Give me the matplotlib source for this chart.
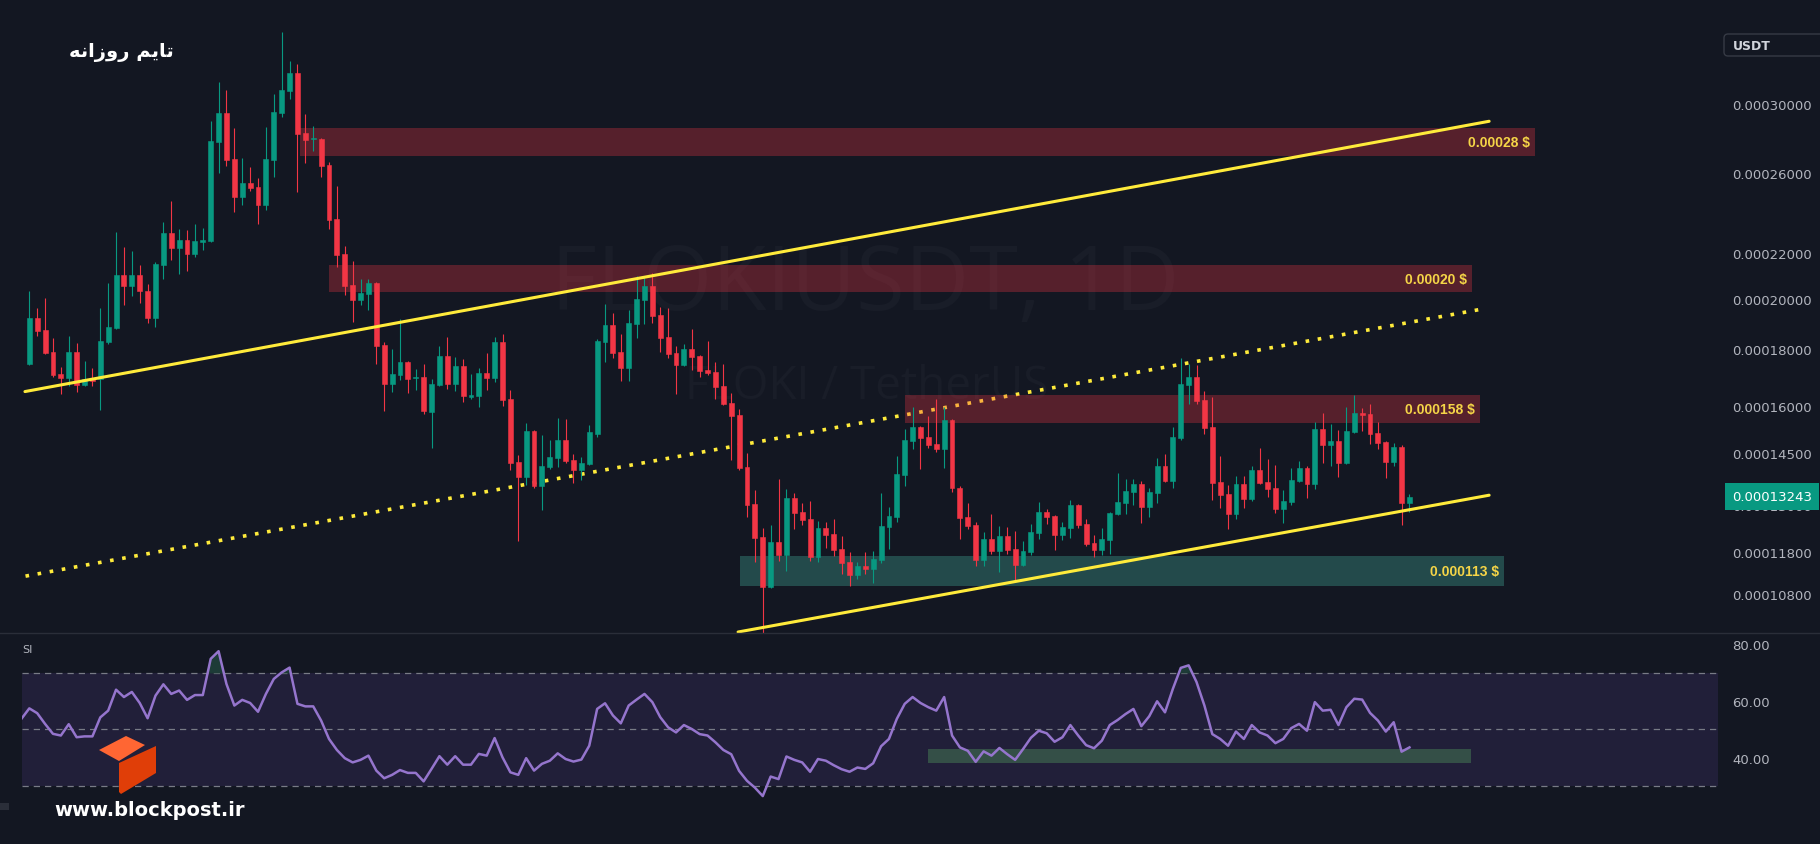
import numpy as np
import matplotlib
matplotlib.use("Agg")
import matplotlib.pyplot as plt
from matplotlib.patches import Rectangle, Polygon, FancyBboxPatch
from matplotlib.lines import Line2D
from matplotlib.ticker import FixedLocator, NullLocator, FuncFormatter
from matplotlib.transforms import Affine2D, blended_transform_factory

# prices in units of 0.0001 USDT
UNIT = 1e-4

opens = [1.746, 1.921, 1.874, 1.790, 1.710, 1.695, 1.790, 1.671, 1.690, 1.690,
         1.829, 1.882, 2.101, 2.055, 2.101, 2.033, 1.921, 2.147, 2.294, 2.222,
         2.260, 2.196, 2.250, 2.256, 2.772, 2.944, 2.675, 2.472, 2.545, 2.523,
         2.431, 2.670, 2.944, 3.082, 3.200, 2.824, 2.789, 2.789, 2.642, 2.361,
         2.196, 2.058, 1.995, 2.020, 2.067, 1.816, 1.674, 1.706, 1.753, 1.695,
         1.699, 1.580, 1.671, 1.775, 1.674, 1.739, 1.630, 1.633, 1.713, 1.695,
         1.828, 1.623, 1.423, 1.380, 1.518, 1.354, 1.409, 1.435, 1.490, 1.429,
         1.400, 1.417, 1.509, 1.828, 1.893, 1.790, 1.732, 1.897, 1.995, 2.054,
         1.933, 1.846, 1.786, 1.742, 1.801, 1.775, 1.724, 1.717, 1.668, 1.610,
         1.570, 1.409, 1.305, 1.217, 1.097, 1.205, 1.173, 1.321, 1.283, 1.264,
         1.168, 1.241, 1.225, 1.187, 1.156, 1.125, 1.146, 1.139, 1.161, 1.243,
         1.269, 1.385, 1.487, 1.531, 1.499, 1.478, 1.463, 1.554, 1.349, 1.269,
         1.248, 1.161, 1.212, 1.182, 1.220, 1.187, 1.149, 1.180, 1.227, 1.283,
         1.272, 1.222, 1.241, 1.302, 1.251, 1.202, 1.185, 1.210, 1.277, 1.307,
         1.338, 1.360, 1.296, 1.335, 1.412, 1.368, 1.496, 1.671, 1.699, 1.620,
         1.531, 1.365, 1.332, 1.277, 1.360, 1.318, 1.400, 1.365, 1.349, 1.291,
         1.310, 1.368, 1.406, 1.360, 1.525, 1.475, 1.487, 1.420, 1.515, 1.577,
         1.573, 1.512, 1.484, 1.423, 1.469, 1.307]

highs = [2.034, 1.962, 2.003, 1.843, 1.734, 1.851, 1.824, 1.757, 1.732, 1.962,
         2.067, 2.299, 2.227, 2.209, 2.146, 2.062, 2.159, 2.346, 2.452, 2.313,
         2.308, 2.337, 2.318, 2.896, 3.141, 3.089, 2.854, 2.681, 2.631, 2.571,
         2.860, 3.063, 3.485, 3.281, 3.261, 2.938, 2.866, 2.795, 2.659, 2.529,
         2.231, 2.164, 2.084, 2.084, 2.071, 1.828, 1.801, 1.917, 1.757, 1.728,
         1.746, 1.692, 1.812, 1.846, 1.771, 1.764, 1.710, 1.732, 1.786, 1.846,
         1.858, 1.654, 1.444, 1.544, 1.520, 1.506, 1.490, 1.560, 1.557, 1.447,
         1.438, 1.538, 1.839, 1.978, 1.942, 1.858, 1.954, 2.097, 2.097, 2.110,
         1.966, 1.962, 1.812, 1.820, 1.878, 1.778, 1.832, 1.753, 1.746, 1.643,
         1.590, 1.450, 1.343, 1.241, 1.248, 1.374, 1.346, 1.335, 1.307, 1.313,
         1.259, 1.256, 1.264, 1.220, 1.180, 1.156, 1.180, 1.182, 1.335, 1.296,
         1.441, 1.525, 1.597, 1.535, 1.567, 1.623, 1.597, 1.557, 1.354, 1.307,
         1.256, 1.230, 1.278, 1.246, 1.243, 1.233, 1.207, 1.251, 1.310, 1.291,
         1.275, 1.256, 1.315, 1.305, 1.264, 1.222, 1.241, 1.283, 1.391, 1.374,
         1.374, 1.368, 1.349, 1.435, 1.447, 1.531, 1.768, 1.746, 1.742, 1.650,
         1.630, 1.441, 1.357, 1.383, 1.383, 1.412, 1.466, 1.432, 1.414, 1.343,
         1.406, 1.426, 1.412, 1.547, 1.577, 1.541, 1.522, 1.597, 1.636, 1.593,
         1.606, 1.547, 1.487, 1.481, 1.475, 1.330]

lows = [1.740, 1.852, 1.783, 1.700, 1.640, 1.668, 1.648, 1.668, 1.668, 1.587,
        1.820, 1.878, 1.972, 2.012, 1.980, 1.900, 1.886, 2.084, 2.169, 2.106,
        2.119, 2.182, 2.213, 2.250, 2.598, 2.636, 2.396, 2.431, 2.503, 2.337,
        2.406, 2.576, 2.920, 3.031, 2.498, 2.653, 2.721, 2.576, 2.313, 2.137,
        2.015, 1.905, 1.975, 1.954, 1.746, 1.583, 1.646, 1.688, 1.643, 1.654,
        1.573, 1.466, 1.668, 1.657, 1.650, 1.613, 1.623, 1.597, 1.654, 1.681,
        1.600, 1.400, 1.207, 1.357, 1.349, 1.288, 1.403, 1.409, 1.420, 1.363,
        1.371, 1.414, 1.499, 1.753, 1.768, 1.685, 1.685, 1.843, 1.897, 1.901,
        1.790, 1.768, 1.640, 1.739, 1.724, 1.699, 1.706, 1.623, 1.604, 1.429,
        1.400, 1.269, 1.156, 0.997, 1.094, 1.158, 1.134, 1.238, 1.248, 1.158,
        1.156, 1.190, 1.170, 1.127, 1.099, 1.115, 1.127, 1.106, 1.153, 1.187,
        1.256, 1.354, 1.463, 1.403, 1.466, 1.454, 1.406, 1.338, 1.212, 1.238,
        1.146, 1.146, 1.175, 1.132, 1.175, 1.108, 1.146, 1.173, 1.212, 1.251,
        1.185, 1.210, 1.215, 1.241, 1.195, 1.168, 1.173, 1.175, 1.275, 1.277,
        1.302, 1.254, 1.269, 1.307, 1.365, 1.349, 1.490, 1.606, 1.606, 1.509,
        1.315, 1.294, 1.238, 1.264, 1.294, 1.313, 1.360, 1.324, 1.280, 1.254,
        1.302, 1.365, 1.321, 1.346, 1.420, 1.412, 1.380, 1.417, 1.512, 1.518,
        1.478, 1.463, 1.377, 1.412, 1.248, 1.283]

closes = [1.921, 1.871, 1.786, 1.707, 1.695, 1.790, 1.671, 1.693, 1.685, 1.832,
          1.886, 2.101, 2.055, 2.101, 2.030, 1.921, 2.150, 2.294, 2.222, 2.260,
          2.196, 2.256, 2.260, 2.778, 2.944, 2.670, 2.472, 2.545, 2.518, 2.431,
          2.675, 2.950, 3.089, 3.200, 2.819, 2.783, 2.795, 2.636, 2.356, 2.191,
          2.054, 1.995, 2.024, 2.067, 1.812, 1.674, 1.710, 1.753, 1.692, 1.699,
          1.583, 1.674, 1.775, 1.674, 1.739, 1.633, 1.636, 1.713, 1.695, 1.828,
          1.620, 1.420, 1.380, 1.518, 1.354, 1.412, 1.438, 1.490, 1.426, 1.400,
          1.420, 1.515, 1.832, 1.893, 1.786, 1.732, 1.901, 1.999, 2.054, 1.929,
          1.843, 1.783, 1.742, 1.801, 1.771, 1.721, 1.713, 1.664, 1.606, 1.567,
          1.406, 1.302, 1.215, 1.097, 1.205, 1.173, 1.321, 1.280, 1.261, 1.168,
          1.241, 1.222, 1.185, 1.153, 1.125, 1.146, 1.139, 1.163, 1.246, 1.272,
          1.389, 1.490, 1.531, 1.496, 1.475, 1.463, 1.554, 1.349, 1.267, 1.246,
          1.161, 1.212, 1.182, 1.220, 1.185, 1.149, 1.182, 1.230, 1.283, 1.269,
          1.222, 1.243, 1.302, 1.248, 1.200, 1.185, 1.212, 1.280, 1.310, 1.340,
          1.360, 1.296, 1.338, 1.412, 1.368, 1.499, 1.674, 1.699, 1.616, 1.528,
          1.363, 1.329, 1.277, 1.360, 1.318, 1.400, 1.363, 1.346, 1.291, 1.313,
          1.371, 1.406, 1.360, 1.525, 1.475, 1.487, 1.420, 1.518, 1.577, 1.570,
          1.509, 1.481, 1.423, 1.469, 1.307, 1.3243]

# RSI, starting one bar before the first visible candle
rsi_values = [53.7,
              57.4, 55.7, 51.9, 48.4, 47.8, 51.8, 47.2, 47.5, 47.5, 54.2,
              56.6, 64.0, 61.4, 63.2, 59.3, 53.9, 61.9, 65.9, 62.5, 63.7,
              60.4, 62.1, 62.1, 74.9, 77.6, 66.0, 58.4, 60.4, 59.3, 56.2,
              62.5, 67.8, 70.1, 71.8, 59.0, 58.1, 58.1, 53.1, 46.6, 42.7,
              39.8, 38.3, 39.2, 40.7, 35.4, 32.7, 33.9, 35.6, 34.6, 34.6,
              31.6, 36.0, 40.5, 37.5, 40.5, 37.5, 37.5, 41.3, 40.7, 46.9,
              40.1, 34.8, 33.9, 39.8, 35.4, 37.8, 38.9, 41.5, 39.5, 38.6,
              39.3, 44.2, 57.2,
              59.2, 54.9, 52.1, 58.4, 60.5, 62.5, 59.6, 54.3, 50.7, 48.9,
              51.5,
              50.1, 48.3, 47.8, 45.4, 42.7, 41.2, 35.3, 31.8, 29.4, 26.4,
              33.3, 32.4, 40.4, 39.2, 38.3, 35.0, 39.5, 38.9, 37.3, 35.9,
              35.0, 36.5, 36.0, 38.0, 44.0, 46.6, 53.7, 59.0, 61.4, 59.3,
              57.8, 56.6, 61.4, 47.8, 43.6, 42.4, 38.5, 42.2, 40.7, 43.4,
              41.2, 39.2, 43.0, 47.0, 49.5, 48.6, 45.6, 47.2, 51.5, 47.8,
              44.4, 43.3, 46.0, 51.5, 53.3, 55.4, 57.2, 51.1, 54.6, 59.9,
              56.0, 64.3, 71.7, 72.6, 66.7, 58.4, 48.3, 46.6, 44.2, 49.2,
              46.6, 51.5, 48.9, 47.8, 45.1, 46.6, 50.4, 51.9, 49.5, 59.6,
              56.6, 56.9, 51.5, 57.8, 60.8, 60.5, 55.8, 53.1, 49.2, 52.5,
              42.1, 43.6]

price_ticks = [3.0, 2.6, 2.2, 2.0, 1.8, 1.6, 1.45, 1.3, 1.18, 1.08]
rsi_ticks = [80, 60, 40]
last_price = 1.3243

# zones: bar from, bar to, low price, high price, label
red_zones = [(34.3, 190.9, 2.692, 2.854, '0.00028 $'),
             (38.0, 182.9, 2.028, 2.145, '0.00020 $'),
             (111.0, 183.9, 1.544, 1.636, '0.000158 $')]
green_zone = (90.1, 187.0, 1.099, 1.170, '0.000113 $')
rsi_zone = (113.96, 182.8, 38.1, 43.0)

# trend lines: (bar, price) -> (bar, price)
upper_channel = [(-0.55, 1.648), (185.1, 2.894)]
lower_channel = [(89.87, 0.9987), (185.1, 1.328)]
mid_line = [(-0.48, 1.122), (184.2, 1.957)]

title = '\ufeea\ufee7\ufe8d\ufeaf\ufeed\ufead \ufee2\ufbfe\ufe8e\ufe97'  # تایم روزانه

BG = '#131722'
UP = '#089981'
DOWN = '#f23645'
YELLOW = '#ffeb3b'
TXT = '#b2b5be'

plt.rcParams['font.family'] = ['DejaVu Sans']

W, H = 1820, 845
fig = plt.figure(figsize=(W / 100, H / 100), dpi=100, facecolor=BG)
PX = Affine2D().scale(1 / W, -1 / H).translate(0, 1) + fig.transFigure

ax = fig.add_axes([22 / W, 211 / H, 1696 / W, 634 / H], facecolor=BG)
rax = fig.add_axes([22 / W, 0, 1696 / W, 211 / H], facecolor=BG)
xlim = (-0.926, 214.12)

# ---- price pane ----
ax.set_yscale('log')
ax.set_xlim(*xlim)
ax.set_ylim(0.99663 * UNIT, 3.7335 * UNIT)

o = np.array(opens) * UNIT
h = np.array(highs) * UNIT
l = np.array(lows) * UNIT
c = np.array(closes) * UNIT
x = np.arange(len(c))
cols = np.where(c >= o, UP, DOWN)

ax.vlines(x, l, h, colors=cols, linewidth=0.8, zorder=3)
ax.bar(x, np.abs(c - o), bottom=np.minimum(o, c), width=0.62, color=cols,
       edgecolor=cols, linewidth=0.4, zorder=4)

for x0, x1, lo, hi, lab in red_zones:
    ax.add_patch(Rectangle((x0, lo * UNIT), x1 - x0, (hi - lo) * UNIT,
                           facecolor=DOWN, alpha=0.3, edgecolor='none', zorder=2))
    ax.text(x1 - 0.6, np.sqrt(lo * hi) * UNIT, lab, ha='right', va='center',
            color='#f5d547', fontsize=10, family='Liberation Sans', weight='bold', zorder=6)
x0, x1, lo, hi, lab = green_zone
ax.add_patch(Rectangle((x0, lo * UNIT), x1 - x0, (hi - lo) * UNIT,
                       facecolor='#234a4b', edgecolor='none', zorder=2))
ax.text(x1 - 0.6, np.sqrt(lo * hi) * UNIT, lab, ha='right', va='center',
        color='#f5d547', fontsize=10, family='Liberation Sans', weight='bold', zorder=6)

for seg in (upper_channel, lower_channel):
    ax.plot([p[0] for p in seg], [p[1] * UNIT for p in seg], color=YELLOW,
            lw=2.2, solid_capstyle='round', zorder=5)
ax.plot([p[0] for p in mid_line], [p[1] * UNIT for p in mid_line], color=YELLOW,
        lw=2.6, ls=(0, (1, 2.4)), dash_capstyle='butt', zorder=1.5)

# watermark
ax.text(865, 287, 'FLOKIUSDT, 1D', transform=PX, ha='center', va='center',
        fontsize=64, color='#191d28', family='Open Sans', zorder=0)
ax.text(867, 387, 'FLOKI / TetherUS', transform=PX, ha='center', va='center',
        fontsize=33, color='#191d28', family='Open Sans', zorder=0)

ax.yaxis.tick_right()
ax.yaxis.set_major_locator(FixedLocator([v * UNIT for v in price_ticks]))
ax.yaxis.set_minor_locator(NullLocator())
ax.yaxis.set_major_formatter(FuncFormatter(lambda v, _: f'{v:.8f}'))
ax.tick_params(axis='y', length=0, pad=10, labelcolor=TXT, labelsize=9.5)
ax.set_xticks([])
for s in ax.spines.values():
    s.set_visible(False)

tr = blended_transform_factory(fig.transFigure, ax.transData)
ax.text(1732 / W, last_price * UNIT, f'{last_price * UNIT:.8f}', transform=tr,
        ha='left', va='center', color='white', fontsize=9.5, clip_on=False, zorder=10,
        bbox=dict(boxstyle='square,pad=0.55', facecolor=UP, edgecolor='none'))

# ---- RSI pane ----
rax.set_xlim(*xlim)
rax.set_ylim(9.47, 84.03)
rax.axhspan(30, 70, facecolor='#211f39', edgecolor='none', zorder=0)
for lvl in (70, 50, 30):
    rax.axhline(lvl, color='#787b86', lw=0.9, ls=(0, (5, 4)), zorder=1)
rx = np.arange(-1, len(rsi_values) - 1)
rv = np.array(rsi_values)
rax.fill_between(rx, 70, rv, where=rv > 70, interpolate=True, color='#1d3b37', zorder=1.5)
x0, x1, lo, hi = rsi_zone
rax.add_patch(Rectangle((x0, lo), x1 - x0, hi - lo, facecolor='#344f47',
                        edgecolor='none', zorder=2))
rax.plot(rx, rv, color='#9575cd', lw=1.8, zorder=3)
rax.yaxis.tick_right()
rax.set_yticks(rsi_ticks)
rax.yaxis.set_major_formatter(FuncFormatter(lambda v, _: f'{v:.2f}'))
rax.tick_params(axis='y', length=0, pad=10, labelcolor=TXT, labelsize=9.5)
rax.set_xticks([])
for s in rax.spines.values():
    s.set_visible(False)

# ---- decorations ----
fig.add_artist(Line2D([0, W], [634, 634], transform=PX, color='#2a2e39', lw=1))
fig.text(121, 52, title, transform=PX, ha='center', va='center', color='white',
         fontsize=14, weight='bold')
fig.text(22, 650, 'SI', transform=PX, ha='left', va='center', color=TXT, fontsize=8)
fig.add_artist(FancyBboxPatch((1724, 35), 110, 22, boxstyle='round,pad=0,rounding_size=4',
                              transform=PX, facecolor=BG, edgecolor='#363a45', lw=1))
fig.text(1733, 46, 'USDT', transform=PX, ha='left', va='center', color='#d1d4dc',
         fontsize=9, weight='bold')
fig.add_artist(Rectangle((0, 804), 9, 7, transform=PX, facecolor='#2a2e39', edgecolor='none'))

# logo
fig.add_artist(Polygon([(99, 751), (126, 737), (145, 746), (119, 762)], closed=True,
                       transform=PX, facecolor='#ff6633', edgecolor='none', zorder=5))
fig.add_artist(Polygon([(119, 764), (156, 747), (156, 774), (121, 795), (119, 793)],
                       closed=True, transform=PX, facecolor='#e03e08', edgecolor='none', zorder=5))
fig.text(54, 811, 'www.blockpost.ir', transform=PX, ha='left', va='center',
         color='white', fontsize=14, weight='bold')

fig.savefig('out.png', dpi=100, facecolor=BG)
